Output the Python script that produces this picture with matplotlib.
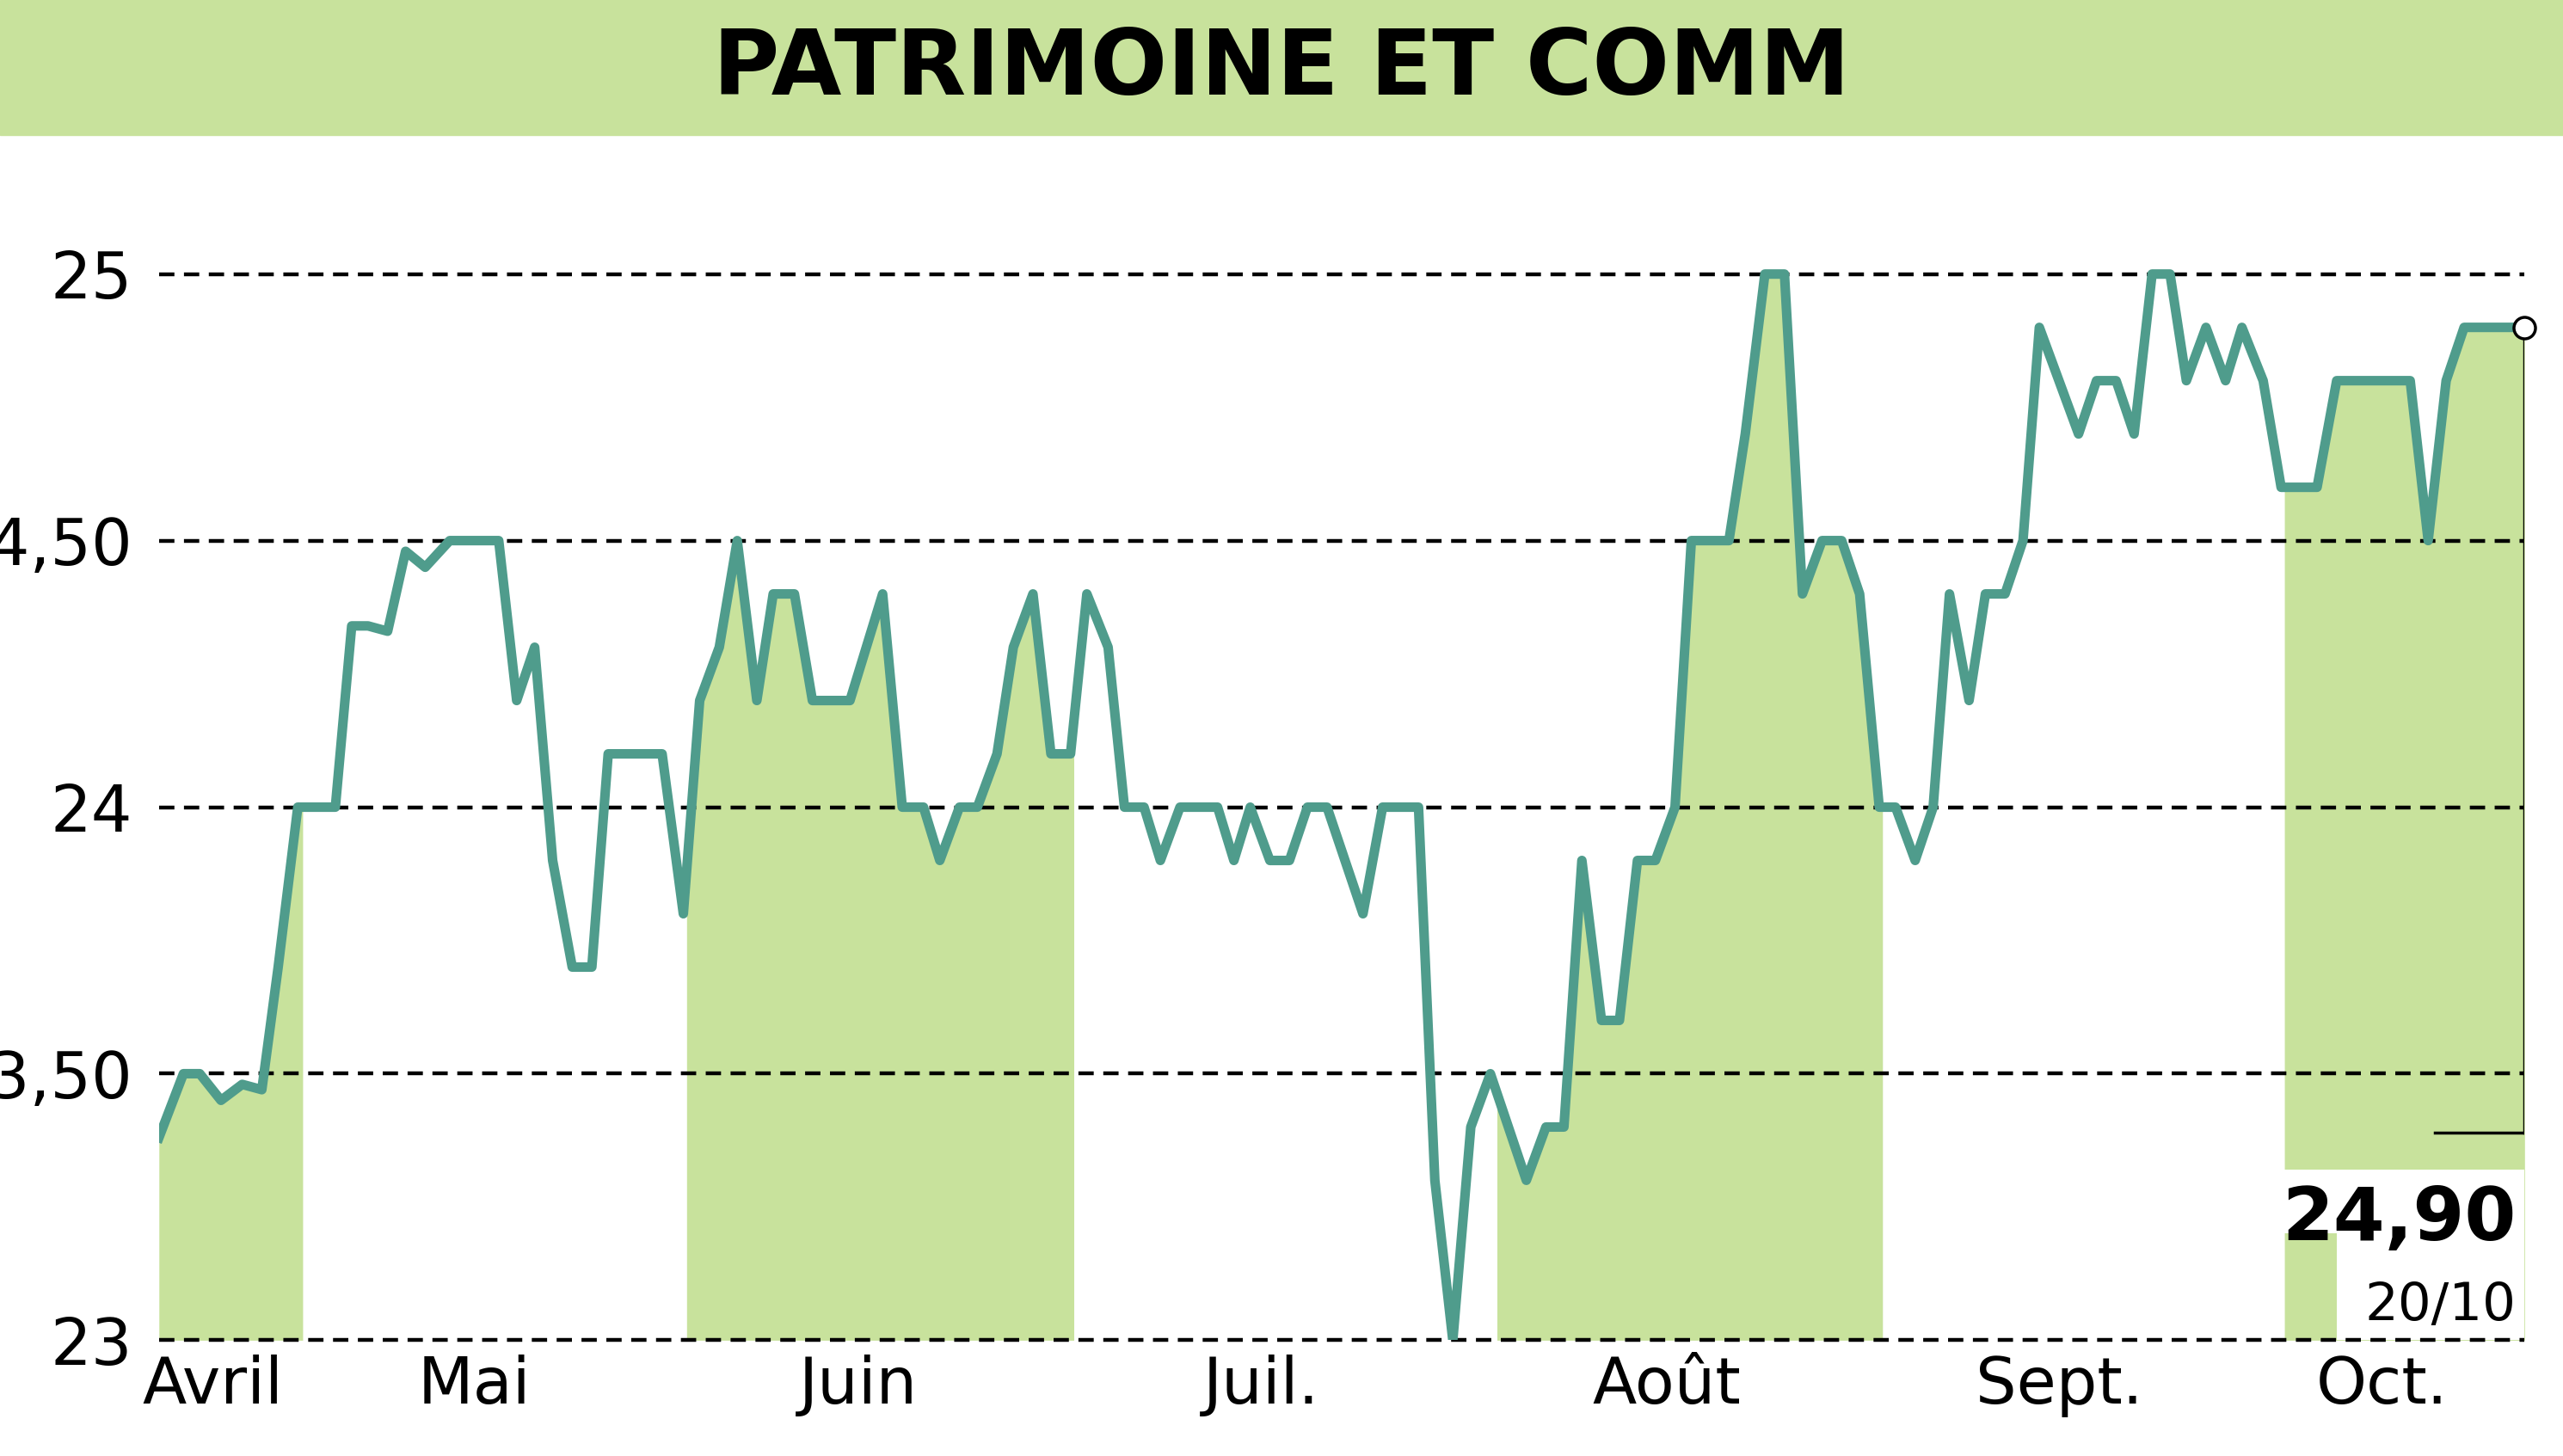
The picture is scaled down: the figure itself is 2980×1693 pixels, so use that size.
import matplotlib
matplotlib.use("Agg")
import matplotlib.pyplot as plt
from matplotlib.patches import Rectangle
import numpy as np

title = "PATRIMOINE ET COMM"
# position along the time axis (trading-day scale) and price
days = [97,112,122,135,148,160,170,182,205,215,225,237,248,260,275,305,316,327,338,350,362,372,405,418,428,440,451,463,473,486,497,520,540,552,565,575,587,598,610,620,632,643,655,665,678,688,700,710,722,745,755,765,777,789,800,812,823,834,846,868,878,889,900,912,923,934,946,957,968,980,991,1002,1013,1025,1035,1058,1068,1080,1092,1103,1115,1127,1138,1150,1160,1172,1183,1193,1205,1215,1227,1238,1248,1260,1272,1283,1295,1306,1317,1328,1338,1350,1362,1372,1385,1396,1418,1430,1475,1486,1497,1508,1545]
prices = [23.38,23.5,23.5,23.45,23.48,23.47,23.7,24.0,24.0,24.34,24.34,24.33,24.48,24.45,24.5,24.5,24.2,24.3,23.9,23.7,23.7,24.1,24.1,23.8,24.2,24.3,24.5,24.2,24.4,24.4,24.2,24.2,24.4,24.0,24.0,23.9,24.0,24.0,24.1,24.3,24.4,24.1,24.1,24.4,24.3,24.0,24.0,23.9,24.0,24.0,23.9,24.0,23.9,23.9,24.0,24.0,23.9,23.8,24.0,24.0,23.3,23.0,23.4,23.5,23.4,23.3,23.4,23.4,23.9,23.6,23.6,23.9,23.9,24.0,24.5,24.5,24.7,25.0,25.0,24.4,24.5,24.5,24.4,24.0,24.0,23.9,24.0,24.4,24.2,24.4,24.4,24.5,24.9,24.8,24.7,24.8,24.8,24.7,25.0,25.0,24.8,24.9,24.8,24.9,24.8,24.6,24.6,24.8,24.8,24.5,24.8,24.9,24.9]
month_labels = ["Avril","Mai","Juin","Juil.","Août","Sept.","Oct."]
month_pos = [130,290,525,772,1020,1260,1458]
shade_bands = [(97,185),(420,657),(916,1152),(1398,1545)]
yticks = [23,23.5,24,24.5,25]
yticklabels = ["23","23,50","24","24,50","25"]
last_value = "24,90"
last_date = "20/10"

font = ["DejaVu Sans"]
line_c = "#4f9c8c"; fill_c = "#c8e29c"

fig = plt.figure(figsize=(29.8,16.93), dpi=100)
fig.patches.append(Rectangle((0,0.907),1,0.093,transform=fig.transFigure,color=fill_c,zorder=0))
fig.text(0.5,0.952,title,ha="center",va="center",fontsize=76,fontweight="bold",family=font)

ax = fig.add_axes([0.062,0.0795,0.923,0.8055])
ax.set_xlim(97,1545); ax.set_ylim(23,25.2)
d = np.array(days); p = np.array(prices)
for a,b in shade_bands:
    xs = np.linspace(a,b,400)
    ax.fill_between(xs,23,np.interp(xs,d,p),color=fill_c,lw=0,zorder=1)
ax.add_patch(Rectangle((1430,23),115,0.32,color="white",zorder=2,lw=0))
ax.add_patch(Rectangle((1398,23.2),40,0.12,color="white",zorder=2,lw=0))
for y in yticks:
    ax.axhline(y,color="black",ls=(0,(4,2.5)),lw=3.2,zorder=3,clip_on=False)
ax.plot(d,p,color=line_c,lw=8,zorder=4)
ax.plot([1545,1545],[p[-1],23.39],color="black",lw=2.5,zorder=5)
ax.plot([1490,1545],[23.39,23.39],color="black",lw=2.5,zorder=5)
ax.plot([1545],[p[-1]],"o",ms=18,mfc="white",mec="black",mew=2.5,zorder=6,clip_on=False)
ax.text(1540,23.225,last_value,ha="right",va="center",fontsize=62,fontweight="bold",family=font,zorder=7)
ax.text(1540,23.065,last_date,ha="right",va="center",fontsize=44,family=font,zorder=7)
for s in ax.spines.values(): s.set_visible(False)
ax.set_yticks(yticks); ax.set_yticklabels(yticklabels)
ax.set_xticks(month_pos); ax.set_xticklabels(month_labels)
ax.tick_params(length=0,labelsize=54)
ax.tick_params(axis="y",pad=22)
ax.tick_params(axis="x",pad=12)
for t in ax.get_xticklabels()+ax.get_yticklabels(): t.set_family(font)
fig.savefig("out.png",dpi=100)
